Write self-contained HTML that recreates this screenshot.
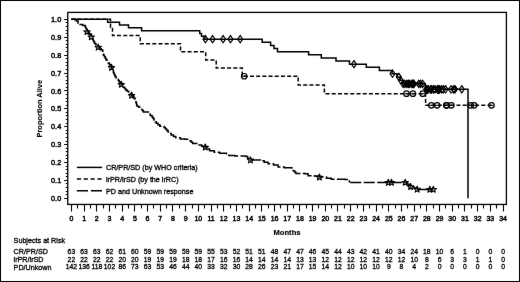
<!DOCTYPE html>
<html><head><meta charset="utf-8"><style>
html,body{margin:0;padding:0;background:#fff;}
body{width:520px;height:282px;overflow:hidden;}
svg{display:block;}
text{font-family:"Liberation Sans", sans-serif;fill:#000;stroke:#000;stroke-width:0.3px;}
svg{filter:grayscale(1);}
</style></head><body>
<svg width="520" height="282" viewBox="0 0 520 282">
<defs><filter id="bl" x="0" y="0" width="520" height="282" filterUnits="userSpaceOnUse" color-interpolation-filters="sRGB"><feConvolveMatrix order="3" kernelMatrix="0.0016 0.0371 0.0016 0.0371 0.8450 0.0371 0.0016 0.0371 0.0016" edgeMode="duplicate"/></filter></defs>
<g filter="url(#bl)">
<rect x="0" y="0" width="520" height="282" fill="#fff"/>
<rect x="0.5" y="0.5" width="519" height="281" fill="none" stroke="#000" stroke-width="1"/>
<rect x="67.75" y="12.4" width="438.65" height="192.04999999999998" fill="none" stroke="#000" stroke-width="1.3"/>
<path d="M64.15 198.50H67.75M65.75 194.50H67.75M65.75 191.50H67.75M65.75 187.50H67.75M65.75 183.50H67.75M64.15 180.50H67.75M65.75 176.50H67.75M65.75 173.50H67.75M65.75 169.50H67.75M65.75 166.50H67.75M64.15 162.50H67.75M65.75 158.50H67.75M65.75 155.50H67.75M65.75 151.50H67.75M65.75 148.50H67.75M64.15 144.50H67.75M65.75 141.50H67.75M65.75 137.50H67.75M65.75 133.50H67.75M65.75 130.50H67.75M64.15 126.50H67.75M65.75 123.50H67.75M65.75 119.50H67.75M65.75 115.50H67.75M65.75 112.50H67.75M64.15 108.50H67.75M65.75 105.50H67.75M65.75 101.50H67.75M65.75 98.50H67.75M65.75 94.50H67.75M64.15 90.50H67.75M65.75 87.50H67.75M65.75 83.50H67.75M65.75 80.50H67.75M65.75 76.50H67.75M64.15 73.50H67.75M65.75 69.50H67.75M65.75 65.50H67.75M65.75 62.50H67.75M65.75 58.50H67.75M64.15 55.50H67.75M65.75 51.50H67.75M65.75 47.50H67.75M65.75 44.50H67.75M65.75 40.50H67.75M64.15 37.50H67.75M65.75 33.50H67.75M65.75 30.50H67.75M65.75 26.50H67.75M65.75 22.50H67.75M64.15 19.50H67.75M71.50 204.45V211.45M77.50 204.45V208.45M84.50 204.45V211.45M90.50 204.45V208.45M96.50 204.45V211.45M103.50 204.45V208.45M109.50 204.45V211.45M115.50 204.45V208.45M122.50 204.45V211.45M128.50 204.45V208.45M134.50 204.45V211.45M141.50 204.45V208.45M147.50 204.45V211.45M153.50 204.45V208.45M160.50 204.45V211.45M166.50 204.45V208.45M172.50 204.45V211.45M179.50 204.45V208.45M185.50 204.45V211.45M192.50 204.45V208.45M198.50 204.45V211.45M204.50 204.45V208.45M211.50 204.45V211.45M217.50 204.45V208.45M223.50 204.45V211.45M230.50 204.45V208.45M236.50 204.45V211.45M242.50 204.45V208.45M249.50 204.45V211.45M255.50 204.45V208.45M261.50 204.45V211.45M268.50 204.45V208.45M274.50 204.45V211.45M280.50 204.45V208.45M287.50 204.45V211.45M293.50 204.45V208.45M299.50 204.45V211.45M306.50 204.45V208.45M312.50 204.45V211.45M318.50 204.45V208.45M325.50 204.45V211.45M331.50 204.45V208.45M337.50 204.45V211.45M344.50 204.45V208.45M350.50 204.45V211.45M357.50 204.45V208.45M363.50 204.45V211.45M369.50 204.45V208.45M376.50 204.45V211.45M382.50 204.45V208.45M388.50 204.45V211.45M395.50 204.45V208.45M401.50 204.45V211.45M407.50 204.45V208.45M414.50 204.45V211.45M420.50 204.45V208.45M426.50 204.45V211.45M433.50 204.45V208.45M439.50 204.45V211.45M445.50 204.45V208.45M452.50 204.45V211.45M458.50 204.45V208.45M464.50 204.45V211.45M471.50 204.45V208.45M477.50 204.45V211.45M483.50 204.45V208.45M490.50 204.45V211.45M496.50 204.45V208.45M503.50 204.45V211.45" stroke="#000" stroke-width="1.1" fill="none"/>
<text transform="translate(61.20 200.90) scale(1 1.1)" text-anchor="end" font-size="7.3" style="stroke-width:0.45px">0.0</text>
<text transform="translate(61.20 183.00) scale(1 1.1)" text-anchor="end" font-size="7.3" style="stroke-width:0.45px">0.1</text>
<text transform="translate(61.20 165.10) scale(1 1.1)" text-anchor="end" font-size="7.3" style="stroke-width:0.45px">0.2</text>
<text transform="translate(61.20 147.20) scale(1 1.1)" text-anchor="end" font-size="7.3" style="stroke-width:0.45px">0.3</text>
<text transform="translate(61.20 129.30) scale(1 1.1)" text-anchor="end" font-size="7.3" style="stroke-width:0.45px">0.4</text>
<text transform="translate(61.20 111.40) scale(1 1.1)" text-anchor="end" font-size="7.3" style="stroke-width:0.45px">0.5</text>
<text transform="translate(61.20 93.50) scale(1 1.1)" text-anchor="end" font-size="7.3" style="stroke-width:0.45px">0.6</text>
<text transform="translate(61.20 75.60) scale(1 1.1)" text-anchor="end" font-size="7.3" style="stroke-width:0.45px">0.7</text>
<text transform="translate(61.20 57.70) scale(1 1.1)" text-anchor="end" font-size="7.3" style="stroke-width:0.45px">0.8</text>
<text transform="translate(61.20 39.80) scale(1 1.1)" text-anchor="end" font-size="7.3" style="stroke-width:0.45px">0.9</text>
<text transform="translate(61.20 21.90) scale(1 1.1)" text-anchor="end" font-size="7.3" style="stroke-width:0.45px">1.0</text>
<text transform="translate(71.40 221.00) scale(1 1.1)" text-anchor="middle" font-size="7.0" style="stroke-width:0.45px">0</text>
<text transform="translate(84.09 221.00) scale(1 1.1)" text-anchor="middle" font-size="7.0" style="stroke-width:0.45px">1</text>
<text transform="translate(96.79 221.00) scale(1 1.1)" text-anchor="middle" font-size="7.0" style="stroke-width:0.45px">2</text>
<text transform="translate(109.49 221.00) scale(1 1.1)" text-anchor="middle" font-size="7.0" style="stroke-width:0.45px">3</text>
<text transform="translate(122.18 221.00) scale(1 1.1)" text-anchor="middle" font-size="7.0" style="stroke-width:0.45px">4</text>
<text transform="translate(134.88 221.00) scale(1 1.1)" text-anchor="middle" font-size="7.0" style="stroke-width:0.45px">5</text>
<text transform="translate(147.57 221.00) scale(1 1.1)" text-anchor="middle" font-size="7.0" style="stroke-width:0.45px">6</text>
<text transform="translate(160.27 221.00) scale(1 1.1)" text-anchor="middle" font-size="7.0" style="stroke-width:0.45px">7</text>
<text transform="translate(172.96 221.00) scale(1 1.1)" text-anchor="middle" font-size="7.0" style="stroke-width:0.45px">8</text>
<text transform="translate(185.66 221.00) scale(1 1.1)" text-anchor="middle" font-size="7.0" style="stroke-width:0.45px">9</text>
<text transform="translate(198.35 221.00) scale(1 1.1)" text-anchor="middle" font-size="7.0" style="stroke-width:0.45px">10</text>
<text transform="translate(211.05 221.00) scale(1 1.1)" text-anchor="middle" font-size="7.0" style="stroke-width:0.45px">11</text>
<text transform="translate(223.74 221.00) scale(1 1.1)" text-anchor="middle" font-size="7.0" style="stroke-width:0.45px">12</text>
<text transform="translate(236.44 221.00) scale(1 1.1)" text-anchor="middle" font-size="7.0" style="stroke-width:0.45px">13</text>
<text transform="translate(249.13 221.00) scale(1 1.1)" text-anchor="middle" font-size="7.0" style="stroke-width:0.45px">14</text>
<text transform="translate(261.83 221.00) scale(1 1.1)" text-anchor="middle" font-size="7.0" style="stroke-width:0.45px">15</text>
<text transform="translate(274.52 221.00) scale(1 1.1)" text-anchor="middle" font-size="7.0" style="stroke-width:0.45px">16</text>
<text transform="translate(287.22 221.00) scale(1 1.1)" text-anchor="middle" font-size="7.0" style="stroke-width:0.45px">17</text>
<text transform="translate(299.91 221.00) scale(1 1.1)" text-anchor="middle" font-size="7.0" style="stroke-width:0.45px">18</text>
<text transform="translate(312.61 221.00) scale(1 1.1)" text-anchor="middle" font-size="7.0" style="stroke-width:0.45px">19</text>
<text transform="translate(325.30 221.00) scale(1 1.1)" text-anchor="middle" font-size="7.0" style="stroke-width:0.45px">20</text>
<text transform="translate(338.00 221.00) scale(1 1.1)" text-anchor="middle" font-size="7.0" style="stroke-width:0.45px">21</text>
<text transform="translate(350.69 221.00) scale(1 1.1)" text-anchor="middle" font-size="7.0" style="stroke-width:0.45px">22</text>
<text transform="translate(363.38 221.00) scale(1 1.1)" text-anchor="middle" font-size="7.0" style="stroke-width:0.45px">23</text>
<text transform="translate(376.08 221.00) scale(1 1.1)" text-anchor="middle" font-size="7.0" style="stroke-width:0.45px">24</text>
<text transform="translate(388.77 221.00) scale(1 1.1)" text-anchor="middle" font-size="7.0" style="stroke-width:0.45px">25</text>
<text transform="translate(401.47 221.00) scale(1 1.1)" text-anchor="middle" font-size="7.0" style="stroke-width:0.45px">26</text>
<text transform="translate(414.16 221.00) scale(1 1.1)" text-anchor="middle" font-size="7.0" style="stroke-width:0.45px">27</text>
<text transform="translate(426.86 221.00) scale(1 1.1)" text-anchor="middle" font-size="7.0" style="stroke-width:0.45px">28</text>
<text transform="translate(439.56 221.00) scale(1 1.1)" text-anchor="middle" font-size="7.0" style="stroke-width:0.45px">29</text>
<text transform="translate(452.25 221.00) scale(1 1.1)" text-anchor="middle" font-size="7.0" style="stroke-width:0.45px">30</text>
<text transform="translate(464.95 221.00) scale(1 1.1)" text-anchor="middle" font-size="7.0" style="stroke-width:0.45px">31</text>
<text transform="translate(477.64 221.00) scale(1 1.1)" text-anchor="middle" font-size="7.0" style="stroke-width:0.45px">32</text>
<text transform="translate(490.34 221.00) scale(1 1.1)" text-anchor="middle" font-size="7.0" style="stroke-width:0.45px">33</text>
<text transform="translate(503.03 221.00) scale(1 1.1)" text-anchor="middle" font-size="7.0" style="stroke-width:0.45px">34</text>
<text x="287" y="234.5" text-anchor="middle" font-size="7.6" font-weight="bold" style="stroke-width:0.15px">Months</text>
<text transform="translate(41.7 108.7) rotate(-90)" text-anchor="middle" font-size="7.45" font-weight="bold" style="stroke-width:0.15px">Proportion Alive</text>
<path d="M71.30 19.30H107.60V22.14H119.50V24.98H128.50V27.82H141.60V30.66H199.70V33.51H201.50V36.35H204.80V39.19H262.20V42.30H270.60V45.43H274.00V48.55H277.50V51.66H308.60V54.78H321.30V57.89H336.00V61.02H349.50V64.14H366.30V67.33H379.40V70.53H392.00V73.72H397.00V77.01H400.00V80.37H402.50V83.85H425.30V89.29H468.00V198.30H468.00" stroke="#000" stroke-width="1.5" fill="none"/>
<path d="M71.30 19.30H110.50V27.44H112.50V35.57H140.20V43.71H180.50V51.85H205.70V59.98H216.20V68.12H242.30V76.25H298.20V84.98H324.40V93.69H425.60V105.31H491.50" stroke="#000" stroke-width="1.5" fill="none" stroke-dasharray="4 2.2"/>
<path d="M71.30 19.30H74.70V19.80H76.40V21.10H78.10V23.20H79.40V24.50H82.80V25.40H85.30V27.10H85.87V28.40H86.43V29.70H87.00V31.00H88.08V32.38H89.15V33.75H90.22V35.12H91.30V36.50H91.96V37.88H92.62V39.26H93.28V40.64H93.94V42.02H94.60V43.40H95.80V44.60H97.00V45.80H98.20V47.00H99.67V48.43H101.13V49.87H102.60V51.30H102.90V52.63H103.20V53.97H103.50V55.30H104.40V56.85H105.30V58.40H106.20V59.95H107.10V61.50H108.20V63.05H109.30V64.60H110.40V66.15H111.50V67.70H112.10V69.18H112.70V70.67H113.30V72.15H113.90V73.63H114.50V75.12H115.10V76.60H116.13V77.93H117.17V79.27H118.20V80.60H119.23V81.93H120.27V83.27H121.30V84.60H122.40V85.92H123.50V87.25H124.60V88.58H125.70V89.90H127.17V91.30H128.65V92.70H130.12V94.10H131.60V95.50H132.73V96.73H133.87V97.97H135.00V99.20H135.42V100.62H135.84V102.04H136.26V103.46H136.68V104.88H137.10V106.30H138.85V107.35H140.60V108.40H141.57V109.60H142.53V110.80H143.50V112.00H148.40V114.10H150.20V115.55H152.00V117.00H153.05V118.58H154.10V120.15H155.15V121.72H156.20V123.30H158.00V124.75H159.80V126.20H164.00V127.60H165.37V129.03H166.73V130.47H168.10V131.90H169.65V133.45H171.20V135.00H173.50V136.40H175.80V137.80H180.40V139.00H185.00V139.30H188.80V139.90H190.10V141.10H191.40V142.30H192.70V143.50H198.10V145.00H201.70V146.15H205.30V147.30H207.45V149.00H209.60V150.70H214.20V152.20H219.60V153.20H226.50V153.80H228.80V155.40H235.00V156.00H245.80V156.60H247.65V158.30H249.50V160.00H255.00V160.00H260.40V160.80H264.20V162.30H268.10V163.80H273.50V164.90H278.10V166.90H284.20V167.70H291.90V169.20H293.20V170.63H294.50V172.07H295.80V173.50H305.00V173.80H308.10V175.70H314.20V176.00H319.60V177.00H326.50V178.20H331.20V179.30H345.00V179.50H347.25V181.00H349.50V182.50" stroke="#000" stroke-width="1.5" fill="none" stroke-dasharray="11 2.3"/>
<path d="M349.50 182.50H405.20V182.50H407.00V183.93H408.80V185.37H410.60V186.80H413.90V188.10H417.20V189.40" stroke="#000" stroke-width="1.5" fill="none" stroke-dasharray="11.1 2.4" stroke-dashoffset="12.8"/>
<path d="M417.2 189.5H433.3" stroke="#000" stroke-width="1.5"/>
<path d="M205.40 35.59L207.90 39.19L205.40 42.79L202.90 39.19ZM212.60 35.59L215.10 39.19L212.60 42.79L210.10 39.19ZM223.10 35.59L225.60 39.19L223.10 42.79L220.60 39.19ZM230.50 35.59L233.00 39.19L230.50 42.79L228.00 39.19ZM240.20 35.59L242.70 39.19L240.20 42.79L237.70 39.19ZM354.00 60.54L356.50 64.14L354.00 67.74L351.50 64.14ZM392.50 70.12L395.00 73.72L392.50 77.32L390.00 73.72ZM398.90 73.41L401.40 77.01L398.90 80.61L396.40 77.01ZM400.80 76.77L403.30 80.37L400.80 83.97L398.30 80.37ZM403.10 80.25L405.60 83.85L403.10 87.45L400.60 83.85ZM404.80 80.25L407.30 83.85L404.80 87.45L402.30 83.85ZM406.80 80.25L409.30 83.85L406.80 87.45L404.30 83.85ZM408.30 80.25L410.80 83.85L408.30 87.45L405.80 83.85ZM409.60 80.25L412.10 83.85L409.60 87.45L407.10 83.85ZM411.70 80.25L414.20 83.85L411.70 87.45L409.20 83.85ZM412.60 80.25L415.10 83.85L412.60 87.45L410.10 83.85ZM413.60 80.25L416.10 83.85L413.60 87.45L411.10 83.85ZM414.00 80.25L416.50 83.85L414.00 87.45L411.50 83.85ZM418.70 80.25L421.20 83.85L418.70 87.45L416.20 83.85ZM420.50 80.25L423.00 83.85L420.50 87.45L418.00 83.85ZM422.60 80.25L425.10 83.85L422.60 87.45L420.10 83.85ZM426.20 85.69L428.70 89.29L426.20 92.89L423.70 89.29ZM426.90 85.69L429.40 89.29L426.90 92.89L424.40 89.29ZM428.20 85.69L430.70 89.29L428.20 92.89L425.70 89.29ZM430.60 85.69L433.10 89.29L430.60 92.89L428.10 89.29ZM431.60 85.69L434.10 89.29L431.60 92.89L429.10 89.29ZM433.50 85.69L436.00 89.29L433.50 92.89L431.00 89.29ZM435.00 85.69L437.50 89.29L435.00 92.89L432.50 89.29ZM437.40 85.69L439.90 89.29L437.40 92.89L434.90 89.29ZM438.50 85.69L441.00 89.29L438.50 92.89L436.00 89.29ZM439.40 85.69L441.90 89.29L439.40 92.89L436.90 89.29ZM441.50 85.69L444.00 89.29L441.50 92.89L439.00 89.29ZM443.20 85.69L445.70 89.29L443.20 92.89L440.70 89.29ZM445.50 85.69L448.00 89.29L445.50 92.89L443.00 89.29ZM451.00 85.69L453.50 89.29L451.00 92.89L448.50 89.29ZM453.60 85.69L456.10 89.29L453.60 92.89L451.10 89.29ZM455.00 85.69L457.50 89.29L455.00 92.89L452.50 89.29ZM461.80 85.69L464.30 89.29L461.80 92.89L459.30 89.29Z" stroke="#000" stroke-width="1.2" fill="none"/>
<g stroke="#000" stroke-width="1.2" fill="none"><circle cx="244.20" cy="76.25" r="2.75"/><circle cx="406.50" cy="93.69" r="2.75"/><circle cx="412.90" cy="93.69" r="2.75"/><circle cx="422.70" cy="93.69" r="2.75"/><circle cx="431.30" cy="105.31" r="2.75"/><circle cx="437.10" cy="105.31" r="2.75"/><circle cx="446.30" cy="105.31" r="2.75"/><circle cx="446.60" cy="105.31" r="2.75"/><circle cx="451.30" cy="105.31" r="2.75"/><circle cx="470.70" cy="105.31" r="2.75"/><circle cx="474.20" cy="105.31" r="2.75"/><circle cx="491.50" cy="105.31" r="2.75"/></g>
<path d="M242.00 76.25H246.40M404.30 93.69H408.70M410.70 93.69H415.10M420.50 93.69H424.90M429.10 105.31H433.50M434.90 105.31H439.30M444.10 105.31H448.50M444.40 105.31H448.80M449.10 105.31H453.50M468.50 105.31H472.90M472.00 105.31H476.40M489.30 105.31H493.70" stroke="#000" stroke-width="1"/>
<path d="M87.00 28.50L87.85 30.63L90.14 30.78L88.38 32.25L88.94 34.47L87.00 33.25L85.06 34.47L85.62 32.25L83.86 30.78L86.15 30.63ZM91.30 33.70L92.15 35.83L94.44 35.98L92.68 37.45L93.24 39.67L91.30 38.45L89.36 39.67L89.92 37.45L88.16 35.98L90.45 35.83ZM98.20 44.10L99.05 46.23L101.34 46.38L99.58 47.85L100.14 50.07L98.20 48.85L96.26 50.07L96.82 47.85L95.06 46.38L97.35 46.23ZM111.50 64.40L112.35 66.53L114.64 66.68L112.88 68.15L113.44 70.37L111.50 69.15L109.56 70.37L110.12 68.15L108.36 66.68L110.65 66.53ZM121.30 81.30L122.15 83.43L124.44 83.58L122.68 85.05L123.24 87.27L121.30 86.05L119.36 87.27L119.92 85.05L118.16 83.58L120.45 83.43ZM131.60 92.20L132.45 94.33L134.74 94.48L132.98 95.95L133.54 98.17L131.60 96.95L129.66 98.17L130.22 95.95L128.46 94.48L130.75 94.33ZM205.30 144.00L206.15 146.13L208.44 146.28L206.68 147.75L207.24 149.97L205.30 148.75L203.36 149.97L203.92 147.75L202.16 146.28L204.45 146.13ZM250.50 156.90L251.35 159.03L253.64 159.18L251.88 160.65L252.44 162.87L250.50 161.65L248.56 162.87L249.12 160.65L247.36 159.18L249.65 159.03ZM319.40 174.00L320.25 176.13L322.54 176.28L320.78 177.75L321.34 179.97L319.40 178.75L317.46 179.97L318.02 177.75L316.26 176.28L318.55 176.13ZM388.30 179.30L389.15 181.43L391.44 181.58L389.68 183.05L390.24 185.27L388.30 184.05L386.36 185.27L386.92 183.05L385.16 181.58L387.45 181.43ZM391.50 179.30L392.35 181.43L394.64 181.58L392.88 183.05L393.44 185.27L391.50 184.05L389.56 185.27L390.12 183.05L388.36 181.58L390.65 181.43ZM405.20 179.30L406.05 181.43L408.34 181.58L406.58 183.05L407.14 185.27L405.20 184.05L403.26 185.27L403.82 183.05L402.06 181.58L404.35 181.43ZM410.60 183.50L411.45 185.63L413.74 185.78L411.98 187.25L412.54 189.47L410.60 188.25L408.66 189.47L409.22 187.25L407.46 185.78L409.75 185.63ZM417.20 186.10L418.05 188.23L420.34 188.38L418.58 189.85L419.14 192.07L417.20 190.85L415.26 192.07L415.82 189.85L414.06 188.38L416.35 188.23ZM429.80 186.30L430.65 188.43L432.94 188.58L431.18 190.05L431.74 192.27L429.80 191.05L427.86 192.27L428.42 190.05L426.66 188.58L428.95 188.43ZM433.30 186.30L434.15 188.43L436.44 188.58L434.68 190.05L435.24 192.27L433.30 191.05L431.36 192.27L431.92 190.05L430.16 188.58L432.45 188.43Z" stroke="#000" stroke-width="1.15" fill="none" stroke-linejoin="round"/>
<path d="M76.9 167.4H102.1" stroke="#000" stroke-width="1.5"/>
<path d="M76.9 179.0H102.1" stroke="#000" stroke-width="1.5" stroke-dasharray="4.1 2.75"/>
<path d="M76.9 190.8H102.1" stroke="#000" stroke-width="1.5" stroke-dasharray="11.1 2.9"/>
<text transform="translate(106.00 169.70) scale(1 1.1)" text-anchor="start" font-size="7.2">CR/PR/SD (by WHO criteria)</text>
<text transform="translate(106.00 181.50) scale(1 1.1)" text-anchor="start" font-size="7.2">irPR/irSD (by the irRC)</text>
<text transform="translate(106.00 193.50) scale(1 1.1)" text-anchor="start" font-size="7.2">PD and Unknown response</text>
<text transform="translate(13.60 243.10) scale(1 1.1)" text-anchor="start" font-size="7.2">Subjects at Risk</text>
<text transform="translate(13.60 254.00) scale(1 1.1)" text-anchor="start" font-size="7.2">CR/PR/SD</text>
<text transform="translate(13.60 261.80) scale(1 1.1)" text-anchor="start" font-size="7.2">irPR/irSD</text>
<text transform="translate(13.60 269.60) scale(1 1.1)" text-anchor="start" font-size="7.2">PD/Unkown</text>
<text transform="translate(71.40 254.00) scale(1 1.1)" text-anchor="middle" font-size="6.8" style="stroke-width:0.3px">63</text>
<text transform="translate(84.09 254.00) scale(1 1.1)" text-anchor="middle" font-size="6.8" style="stroke-width:0.3px">63</text>
<text transform="translate(96.79 254.00) scale(1 1.1)" text-anchor="middle" font-size="6.8" style="stroke-width:0.3px">63</text>
<text transform="translate(109.49 254.00) scale(1 1.1)" text-anchor="middle" font-size="6.8" style="stroke-width:0.3px">62</text>
<text transform="translate(122.18 254.00) scale(1 1.1)" text-anchor="middle" font-size="6.8" style="stroke-width:0.3px">61</text>
<text transform="translate(134.88 254.00) scale(1 1.1)" text-anchor="middle" font-size="6.8" style="stroke-width:0.3px">60</text>
<text transform="translate(147.57 254.00) scale(1 1.1)" text-anchor="middle" font-size="6.8" style="stroke-width:0.3px">59</text>
<text transform="translate(160.27 254.00) scale(1 1.1)" text-anchor="middle" font-size="6.8" style="stroke-width:0.3px">59</text>
<text transform="translate(172.96 254.00) scale(1 1.1)" text-anchor="middle" font-size="6.8" style="stroke-width:0.3px">59</text>
<text transform="translate(185.66 254.00) scale(1 1.1)" text-anchor="middle" font-size="6.8" style="stroke-width:0.3px">59</text>
<text transform="translate(198.35 254.00) scale(1 1.1)" text-anchor="middle" font-size="6.8" style="stroke-width:0.3px">59</text>
<text transform="translate(211.05 254.00) scale(1 1.1)" text-anchor="middle" font-size="6.8" style="stroke-width:0.3px">55</text>
<text transform="translate(223.74 254.00) scale(1 1.1)" text-anchor="middle" font-size="6.8" style="stroke-width:0.3px">53</text>
<text transform="translate(236.44 254.00) scale(1 1.1)" text-anchor="middle" font-size="6.8" style="stroke-width:0.3px">52</text>
<text transform="translate(249.13 254.00) scale(1 1.1)" text-anchor="middle" font-size="6.8" style="stroke-width:0.3px">51</text>
<text transform="translate(261.83 254.00) scale(1 1.1)" text-anchor="middle" font-size="6.8" style="stroke-width:0.3px">51</text>
<text transform="translate(274.52 254.00) scale(1 1.1)" text-anchor="middle" font-size="6.8" style="stroke-width:0.3px">48</text>
<text transform="translate(287.22 254.00) scale(1 1.1)" text-anchor="middle" font-size="6.8" style="stroke-width:0.3px">47</text>
<text transform="translate(299.91 254.00) scale(1 1.1)" text-anchor="middle" font-size="6.8" style="stroke-width:0.3px">47</text>
<text transform="translate(312.61 254.00) scale(1 1.1)" text-anchor="middle" font-size="6.8" style="stroke-width:0.3px">46</text>
<text transform="translate(325.30 254.00) scale(1 1.1)" text-anchor="middle" font-size="6.8" style="stroke-width:0.3px">45</text>
<text transform="translate(338.00 254.00) scale(1 1.1)" text-anchor="middle" font-size="6.8" style="stroke-width:0.3px">44</text>
<text transform="translate(350.69 254.00) scale(1 1.1)" text-anchor="middle" font-size="6.8" style="stroke-width:0.3px">43</text>
<text transform="translate(363.38 254.00) scale(1 1.1)" text-anchor="middle" font-size="6.8" style="stroke-width:0.3px">42</text>
<text transform="translate(376.08 254.00) scale(1 1.1)" text-anchor="middle" font-size="6.8" style="stroke-width:0.3px">41</text>
<text transform="translate(388.77 254.00) scale(1 1.1)" text-anchor="middle" font-size="6.8" style="stroke-width:0.3px">40</text>
<text transform="translate(401.47 254.00) scale(1 1.1)" text-anchor="middle" font-size="6.8" style="stroke-width:0.3px">34</text>
<text transform="translate(414.16 254.00) scale(1 1.1)" text-anchor="middle" font-size="6.8" style="stroke-width:0.3px">24</text>
<text transform="translate(426.86 254.00) scale(1 1.1)" text-anchor="middle" font-size="6.8" style="stroke-width:0.3px">18</text>
<text transform="translate(439.56 254.00) scale(1 1.1)" text-anchor="middle" font-size="6.8" style="stroke-width:0.3px">10</text>
<text transform="translate(452.25 254.00) scale(1 1.1)" text-anchor="middle" font-size="6.8" style="stroke-width:0.3px">6</text>
<text transform="translate(464.95 254.00) scale(1 1.1)" text-anchor="middle" font-size="6.8" style="stroke-width:0.3px">1</text>
<text transform="translate(477.64 254.00) scale(1 1.1)" text-anchor="middle" font-size="6.8" style="stroke-width:0.3px">0</text>
<text transform="translate(490.34 254.00) scale(1 1.1)" text-anchor="middle" font-size="6.8" style="stroke-width:0.3px">0</text>
<text transform="translate(503.03 254.00) scale(1 1.1)" text-anchor="middle" font-size="6.8" style="stroke-width:0.3px">0</text>
<text transform="translate(71.40 261.80) scale(1 1.1)" text-anchor="middle" font-size="6.8" style="stroke-width:0.3px">22</text>
<text transform="translate(84.09 261.80) scale(1 1.1)" text-anchor="middle" font-size="6.8" style="stroke-width:0.3px">22</text>
<text transform="translate(96.79 261.80) scale(1 1.1)" text-anchor="middle" font-size="6.8" style="stroke-width:0.3px">22</text>
<text transform="translate(109.49 261.80) scale(1 1.1)" text-anchor="middle" font-size="6.8" style="stroke-width:0.3px">22</text>
<text transform="translate(122.18 261.80) scale(1 1.1)" text-anchor="middle" font-size="6.8" style="stroke-width:0.3px">20</text>
<text transform="translate(134.88 261.80) scale(1 1.1)" text-anchor="middle" font-size="6.8" style="stroke-width:0.3px">20</text>
<text transform="translate(147.57 261.80) scale(1 1.1)" text-anchor="middle" font-size="6.8" style="stroke-width:0.3px">19</text>
<text transform="translate(160.27 261.80) scale(1 1.1)" text-anchor="middle" font-size="6.8" style="stroke-width:0.3px">19</text>
<text transform="translate(172.96 261.80) scale(1 1.1)" text-anchor="middle" font-size="6.8" style="stroke-width:0.3px">19</text>
<text transform="translate(185.66 261.80) scale(1 1.1)" text-anchor="middle" font-size="6.8" style="stroke-width:0.3px">18</text>
<text transform="translate(198.35 261.80) scale(1 1.1)" text-anchor="middle" font-size="6.8" style="stroke-width:0.3px">18</text>
<text transform="translate(211.05 261.80) scale(1 1.1)" text-anchor="middle" font-size="6.8" style="stroke-width:0.3px">17</text>
<text transform="translate(223.74 261.80) scale(1 1.1)" text-anchor="middle" font-size="6.8" style="stroke-width:0.3px">16</text>
<text transform="translate(236.44 261.80) scale(1 1.1)" text-anchor="middle" font-size="6.8" style="stroke-width:0.3px">16</text>
<text transform="translate(249.13 261.80) scale(1 1.1)" text-anchor="middle" font-size="6.8" style="stroke-width:0.3px">14</text>
<text transform="translate(261.83 261.80) scale(1 1.1)" text-anchor="middle" font-size="6.8" style="stroke-width:0.3px">14</text>
<text transform="translate(274.52 261.80) scale(1 1.1)" text-anchor="middle" font-size="6.8" style="stroke-width:0.3px">14</text>
<text transform="translate(287.22 261.80) scale(1 1.1)" text-anchor="middle" font-size="6.8" style="stroke-width:0.3px">14</text>
<text transform="translate(299.91 261.80) scale(1 1.1)" text-anchor="middle" font-size="6.8" style="stroke-width:0.3px">13</text>
<text transform="translate(312.61 261.80) scale(1 1.1)" text-anchor="middle" font-size="6.8" style="stroke-width:0.3px">13</text>
<text transform="translate(325.30 261.80) scale(1 1.1)" text-anchor="middle" font-size="6.8" style="stroke-width:0.3px">12</text>
<text transform="translate(338.00 261.80) scale(1 1.1)" text-anchor="middle" font-size="6.8" style="stroke-width:0.3px">12</text>
<text transform="translate(350.69 261.80) scale(1 1.1)" text-anchor="middle" font-size="6.8" style="stroke-width:0.3px">12</text>
<text transform="translate(363.38 261.80) scale(1 1.1)" text-anchor="middle" font-size="6.8" style="stroke-width:0.3px">12</text>
<text transform="translate(376.08 261.80) scale(1 1.1)" text-anchor="middle" font-size="6.8" style="stroke-width:0.3px">12</text>
<text transform="translate(388.77 261.80) scale(1 1.1)" text-anchor="middle" font-size="6.8" style="stroke-width:0.3px">12</text>
<text transform="translate(401.47 261.80) scale(1 1.1)" text-anchor="middle" font-size="6.8" style="stroke-width:0.3px">12</text>
<text transform="translate(414.16 261.80) scale(1 1.1)" text-anchor="middle" font-size="6.8" style="stroke-width:0.3px">10</text>
<text transform="translate(426.86 261.80) scale(1 1.1)" text-anchor="middle" font-size="6.8" style="stroke-width:0.3px">8</text>
<text transform="translate(439.56 261.80) scale(1 1.1)" text-anchor="middle" font-size="6.8" style="stroke-width:0.3px">6</text>
<text transform="translate(452.25 261.80) scale(1 1.1)" text-anchor="middle" font-size="6.8" style="stroke-width:0.3px">3</text>
<text transform="translate(464.95 261.80) scale(1 1.1)" text-anchor="middle" font-size="6.8" style="stroke-width:0.3px">3</text>
<text transform="translate(477.64 261.80) scale(1 1.1)" text-anchor="middle" font-size="6.8" style="stroke-width:0.3px">1</text>
<text transform="translate(490.34 261.80) scale(1 1.1)" text-anchor="middle" font-size="6.8" style="stroke-width:0.3px">1</text>
<text transform="translate(503.03 261.80) scale(1 1.1)" text-anchor="middle" font-size="6.8" style="stroke-width:0.3px">0</text>
<text transform="translate(71.40 269.30) scale(1 1.1)" text-anchor="middle" font-size="6.8" style="stroke-width:0.3px">142</text>
<text transform="translate(84.09 269.30) scale(1 1.1)" text-anchor="middle" font-size="6.8" style="stroke-width:0.3px">136</text>
<text transform="translate(96.79 269.30) scale(1 1.1)" text-anchor="middle" font-size="6.8" style="stroke-width:0.3px">118</text>
<text transform="translate(109.49 269.30) scale(1 1.1)" text-anchor="middle" font-size="6.8" style="stroke-width:0.3px">102</text>
<text transform="translate(122.18 269.30) scale(1 1.1)" text-anchor="middle" font-size="6.8" style="stroke-width:0.3px">86</text>
<text transform="translate(134.88 269.30) scale(1 1.1)" text-anchor="middle" font-size="6.8" style="stroke-width:0.3px">73</text>
<text transform="translate(147.57 269.30) scale(1 1.1)" text-anchor="middle" font-size="6.8" style="stroke-width:0.3px">63</text>
<text transform="translate(160.27 269.30) scale(1 1.1)" text-anchor="middle" font-size="6.8" style="stroke-width:0.3px">53</text>
<text transform="translate(172.96 269.30) scale(1 1.1)" text-anchor="middle" font-size="6.8" style="stroke-width:0.3px">46</text>
<text transform="translate(185.66 269.30) scale(1 1.1)" text-anchor="middle" font-size="6.8" style="stroke-width:0.3px">44</text>
<text transform="translate(198.35 269.30) scale(1 1.1)" text-anchor="middle" font-size="6.8" style="stroke-width:0.3px">40</text>
<text transform="translate(211.05 269.30) scale(1 1.1)" text-anchor="middle" font-size="6.8" style="stroke-width:0.3px">33</text>
<text transform="translate(223.74 269.30) scale(1 1.1)" text-anchor="middle" font-size="6.8" style="stroke-width:0.3px">32</text>
<text transform="translate(236.44 269.30) scale(1 1.1)" text-anchor="middle" font-size="6.8" style="stroke-width:0.3px">30</text>
<text transform="translate(249.13 269.30) scale(1 1.1)" text-anchor="middle" font-size="6.8" style="stroke-width:0.3px">28</text>
<text transform="translate(261.83 269.30) scale(1 1.1)" text-anchor="middle" font-size="6.8" style="stroke-width:0.3px">26</text>
<text transform="translate(274.52 269.30) scale(1 1.1)" text-anchor="middle" font-size="6.8" style="stroke-width:0.3px">23</text>
<text transform="translate(287.22 269.30) scale(1 1.1)" text-anchor="middle" font-size="6.8" style="stroke-width:0.3px">21</text>
<text transform="translate(299.91 269.30) scale(1 1.1)" text-anchor="middle" font-size="6.8" style="stroke-width:0.3px">17</text>
<text transform="translate(312.61 269.30) scale(1 1.1)" text-anchor="middle" font-size="6.8" style="stroke-width:0.3px">15</text>
<text transform="translate(325.30 269.30) scale(1 1.1)" text-anchor="middle" font-size="6.8" style="stroke-width:0.3px">14</text>
<text transform="translate(338.00 269.30) scale(1 1.1)" text-anchor="middle" font-size="6.8" style="stroke-width:0.3px">12</text>
<text transform="translate(350.69 269.30) scale(1 1.1)" text-anchor="middle" font-size="6.8" style="stroke-width:0.3px">10</text>
<text transform="translate(363.38 269.30) scale(1 1.1)" text-anchor="middle" font-size="6.8" style="stroke-width:0.3px">10</text>
<text transform="translate(376.08 269.30) scale(1 1.1)" text-anchor="middle" font-size="6.8" style="stroke-width:0.3px">10</text>
<text transform="translate(388.77 269.30) scale(1 1.1)" text-anchor="middle" font-size="6.8" style="stroke-width:0.3px">9</text>
<text transform="translate(401.47 269.30) scale(1 1.1)" text-anchor="middle" font-size="6.8" style="stroke-width:0.3px">8</text>
<text transform="translate(414.16 269.30) scale(1 1.1)" text-anchor="middle" font-size="6.8" style="stroke-width:0.3px">4</text>
<text transform="translate(426.86 269.30) scale(1 1.1)" text-anchor="middle" font-size="6.8" style="stroke-width:0.3px">2</text>
<text transform="translate(439.56 269.30) scale(1 1.1)" text-anchor="middle" font-size="6.8" style="stroke-width:0.3px">0</text>
<text transform="translate(452.25 269.30) scale(1 1.1)" text-anchor="middle" font-size="6.8" style="stroke-width:0.3px">0</text>
<text transform="translate(464.95 269.30) scale(1 1.1)" text-anchor="middle" font-size="6.8" style="stroke-width:0.3px">0</text>
<text transform="translate(477.64 269.30) scale(1 1.1)" text-anchor="middle" font-size="6.8" style="stroke-width:0.3px">0</text>
<text transform="translate(490.34 269.30) scale(1 1.1)" text-anchor="middle" font-size="6.8" style="stroke-width:0.3px">0</text>
<text transform="translate(503.03 269.30) scale(1 1.1)" text-anchor="middle" font-size="6.8" style="stroke-width:0.3px">0</text>
</g>
</svg>
</body></html>
